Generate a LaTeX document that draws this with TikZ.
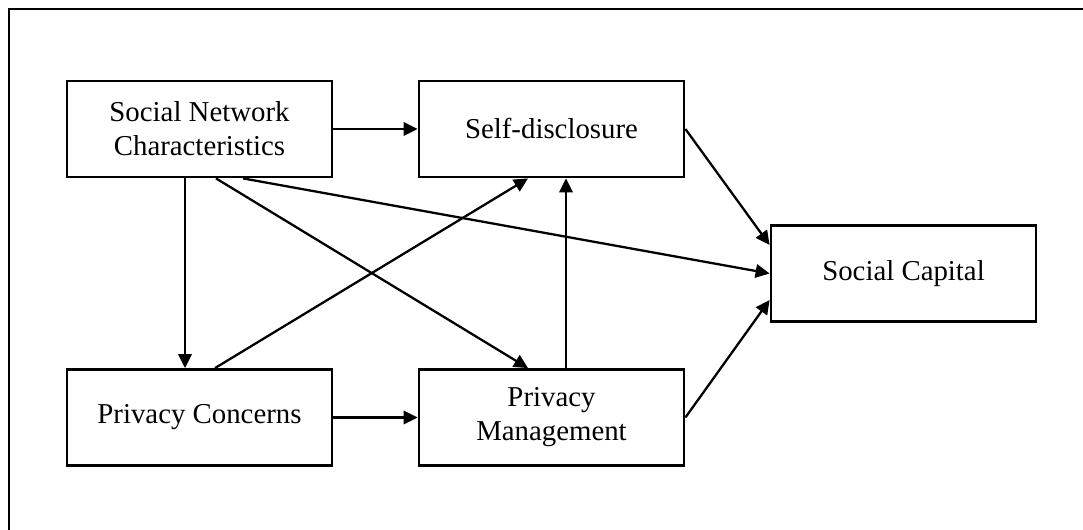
\documentclass[tikz,border=0pt]{standalone}
\usepackage{fontspec}
\setmainfont{Liberation Serif}
\usetikzlibrary{arrows, arrows.meta}
\usetikzlibrary{calc}

\begin{document}
\begin{tikzpicture}[
    box/.style={draw, line width=1.6pt, minimum width=5.3cm, minimum height=1.92cm, align=center, inner sep=0pt, font=\fontsize{16.4pt}{19.4pt}\selectfont},
    link/.style={line width=1.3pt, -{Triangle[length=0.28cm, width=0.27cm]}}
  ]
      \useasboundingbox (0,0) rectangle (21.66,10.6);
      \draw[line width=1.6pt] (0.18,-0.1) -- (0.18,10.42) -- (21.76,10.42);

      \node[box] (snc) at (3.99, 8.02) {Social Network\\Characteristics};
      \node[box] (sd) at (11.03, 8.02) {Self-disclosure};
      \node[box] (sc) at (18.07, 5.13) {Social Capital};
      \node[box] (pc) at (3.99, 2.25) {Privacy Concerns};
      \node[box] (pm) at (11.03, 2.25) {Privacy\\Management};

      \draw[link] (snc) -- (sd);
      \draw[link] (pc) -- (pm);
      \draw[link] ([xshift=-0.29cm]snc.south) -- ([xshift=-0.29cm]pc.north);
      \draw[link] ([xshift=0.31cm]pc.north) -- ([xshift=-0.47cm]sd.south);
      \draw[link] ([xshift=0.33cm]snc.south) -- ([xshift=-0.47cm]pm.north);
      \draw[link] ([xshift=0.29cm]pm.north) -- ([xshift=0.29cm]sd.south);
      \draw[link] ([xshift=0.87cm]snc.south) -- (sc.west);
      \draw[link] (sd.east) -- ([yshift=0.57cm]sc.west);
      \draw[link] (pm.east) -- ([yshift=-0.53cm]sc.west);
    \end{tikzpicture}
\end{document}
